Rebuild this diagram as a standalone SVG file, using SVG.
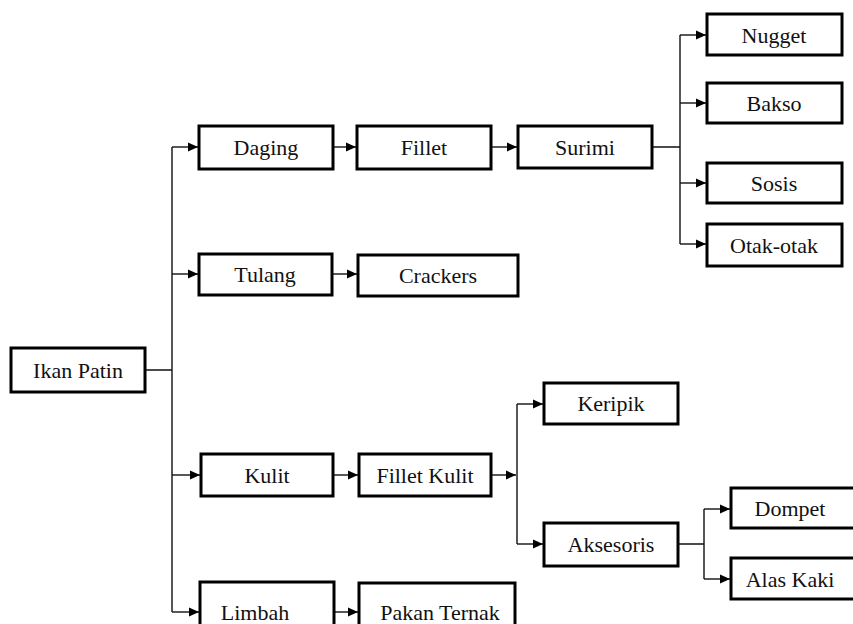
<svg xmlns="http://www.w3.org/2000/svg" width="853" height="624" viewBox="0 0 853 624">
<style>
.box{fill:#fff;stroke:#000;stroke-width:3}
.ln{fill:none;stroke:#111;stroke-width:1.4}
.ar{fill:none;stroke:#111;stroke-width:1.4;marker-end:url(#ah)}
</style>
<defs>
<marker id="ah" markerWidth="12" markerHeight="12" refX="10" refY="6" orient="auto" markerUnits="userSpaceOnUse">
<path d="M0,1.5 L10,6 L0,10.5 Z" fill="#000"/>
</marker>
</defs>
<rect width="853" height="624" fill="#fff"/>
<g id="connectors">
<path class="ln" d="M145,370 H172 M172,147 V612"/>
<path class="ar" d="M172,147 H198"/>
<path class="ar" d="M172,274 H198"/>
<path class="ar" d="M172,475 H200"/>
<path class="ar" d="M172,612 H199"/>
<path class="ar" d="M333,147 H356"/>
<path class="ar" d="M491,147 H517"/>
<path class="ln" d="M652,147 H680 M680,35 V244"/>
<path class="ar" d="M680,35 H706"/>
<path class="ar" d="M680,103 H706"/>
<path class="ar" d="M680,183 H706"/>
<path class="ar" d="M680,244 H706"/>
<path class="ar" d="M333,274 H357"/>
<path class="ar" d="M333,475 H358"/>
<path class="ar" d="M491,475 H516"/>
<path class="ln" d="M517,404 V544"/>
<path class="ar" d="M517,404 H543"/>
<path class="ar" d="M517,544 H543"/>
<path class="ln" d="M678,544 H704 M704,509 V579"/>
<path class="ar" d="M704,509 H730"/>
<path class="ar" d="M704,579 H730"/>
<path class="ar" d="M334,612 H358"/>
</g>
<g font-family="Liberation Serif, Times New Roman, serif" font-size="22" fill="#111" text-anchor="middle">
<g id="ikan-patin"><rect class="box" x="11" y="348" width="134" height="44"/><text x="78" y="378">Ikan Patin</text></g>
<g id="daging"><rect class="box" x="199" y="126" width="134" height="43"/><text x="266" y="155">Daging</text></g>
<g id="fillet"><rect class="box" x="357" y="126" width="134" height="43"/><text x="424" y="155">Fillet</text></g>
<g id="surimi"><rect class="box" x="518" y="126" width="134" height="42"/><text x="585" y="155">Surimi</text></g>
<g id="nugget"><rect class="box" x="707" y="14" width="135" height="41"/><text x="774" y="43">Nugget</text></g>
<g id="bakso"><rect class="box" x="707" y="83" width="135" height="40"/><text x="774" y="111">Bakso</text></g>
<g id="sosis"><rect class="box" x="707" y="163" width="135" height="40"/><text x="774" y="191">Sosis</text></g>
<g id="otak-otak"><rect class="box" x="707" y="224" width="135" height="42"/><text x="774" y="253">Otak-otak</text></g>
<g id="tulang"><rect class="box" x="199" y="254" width="133" height="41"/><text x="265" y="282">Tulang</text></g>
<g id="crackers"><rect class="box" x="358" y="255" width="160" height="41"/><text x="438" y="283">Crackers</text></g>
<g id="kulit"><rect class="box" x="201" y="454" width="132" height="42"/><text x="267" y="483">Kulit</text></g>
<g id="fillet-kulit"><rect class="box" x="359" y="454" width="132" height="42"/><text x="425" y="483">Fillet Kulit</text></g>
<g id="keripik"><rect class="box" x="544" y="383" width="134" height="41"/><text x="611" y="411">Keripik</text></g>
<g id="aksesoris"><rect class="box" x="544" y="523" width="134" height="43"/><text x="611" y="552">Aksesoris</text></g>
<g id="dompet"><rect class="box" x="731" y="488" width="130" height="40"/><text x="790" y="516">Dompet</text></g>
<g id="alas-kaki"><rect class="box" x="731" y="558" width="130" height="41"/><text x="790" y="587">Alas Kaki</text></g>
<g id="limbah"><rect class="box" x="200" y="582" width="134" height="62"/><text x="255" y="620">Limbah</text></g>
<g id="pakan-ternak"><rect class="box" x="359" y="583" width="156" height="62"/><text x="440" y="620">Pakan Ternak</text></g>
</g>
</svg>
